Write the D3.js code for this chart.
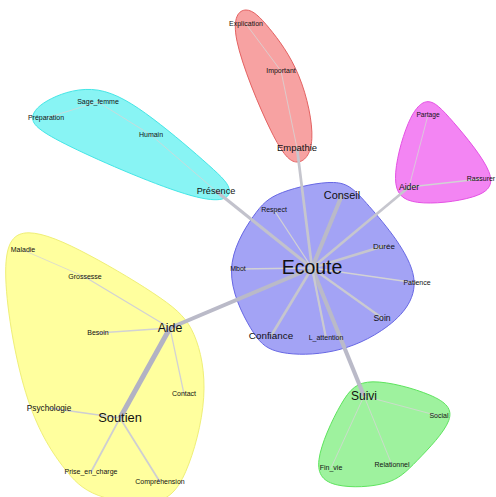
<!DOCTYPE html>
<html><head><meta charset="utf-8">
<script src="https://cdn.jsdelivr.net/npm/d3@7"></script>
<style>html,body{margin:0;padding:0;background:#fff;} svg{display:block;}</style>
</head><body>
<svg id="chart" width="496" height="497"></svg>
<script>
// ---- data ----
const words = ["Ecoute","Conseil","Respect","Durée","Mbot","Patience","Soin","Confiance","L_attention",
  "Empathie","Important","Explication",
  "Présence","Humain","Sage_femme","Préparation",
  "Aider","Partage","Rassurer",
  "Aide","Grossesse","Maladie","Besoin","Contact","Soutien","Psychologie","Prise_en_charge","Compréhension",
  "Suivi","Social","Relationnel","Fin_vie"];
// layout coordinates of the graph (similarity-graph layout units)
const layoutX = [312,342,274,384,238,417,382,271,326, 297,281,246, 216,151,98,46, 409,428,481, 170,85,23,98,184,120,49,91,160, 364,439,392,331];
const layoutY = [268,195,210,246,269,283,318,336,338, 148,71,24, 191,135,102,118, 187,115,179, 328,277,250,333,394,418,408,472,482, 396,416,465,468];
const community = [0,0,0,0,0,0,0,0,0, 1,1,1, 2,2,2,2, 3,3,3, 4,4,4,4,4,4,4,4,4, 5,5,5,5];
const freq = [73,25,3,9,3,3,12,19,3, 17,3,3, 15,3,3,3, 12,1,3, 33,3,3,3,3,36,10,3,3, 31,3,3,3];
const edgeFrom   = ["Ecoute","Ecoute","Ecoute","Ecoute","Ecoute","Ecoute","Ecoute","Ecoute","Ecoute","Ecoute","Ecoute","Ecoute","Ecoute",
  "Aide","Soutien","Soutien","Soutien","Aide","Aide","Aide","Grossesse",
  "Empathie","Important","Présence","Humain","Sage_femme","Aider","Aider","Suivi","Suivi","Suivi"];
const edgeTo     = ["Conseil","Aide","Suivi","Présence","Confiance","Empathie","Aider","Durée","Soin","L_attention","Respect","Mbot","Patience",
  "Soutien","Psychologie","Prise_en_charge","Compréhension","Besoin","Contact","Grossesse","Maladie",
  "Important","Explication","Humain","Sage_femme","Préparation","Rassurer","Partage","Social","Relationnel","Fin_vie"];
const edgeWeight = [8,8,8,6,5,5,5,5,4,4,2,2,2, 10,3,3,3,2,2,2,1, 1,1,1,1,1,2,1,1,1,1];

// ---- styles ----
const hullFill   = ["#a3a3f5","#f7a2a2","#88f4f4","#f385f3","#ffff9e","#9ef29e"];
const hullStroke = ["#6767e4","#e46262","#44e6e6","#e451e4","#efef78","#5ee45e"];
const hullPad    = [18,21,20,20,26,21];

const W = 496, H = 497;
const svg = d3.select("#chart");
const x = d3.scaleLinear().domain([0, 496]).range([0, W]);
const y = d3.scaleLinear().domain([0, 497]).range([0, H]);
const fontSize = d3.scaleLinear().domain([3, 73]).range([7, 19.5]);
const edgeWidth = d3.scaleLinear().domain([1, 10]).range([0.8, 5]);
const edgeColor = d3.scaleLinear().domain([1, 10]).range(["#d6d6d6", "#b2b2c4"]);

const nodes = words.map((w, i) => ({ name: w, x: x(layoutX[i]), y: y(layoutY[i]), c: community[i], f: freq[i] }));
const byName = new Map(nodes.map(n => [n.name, n]));
const links = edgeFrom.map((s, i) => ({ s: byName.get(s), t: byName.get(edgeTo[i]), w: edgeWeight[i] }));

// ---- hulls (diamond-expanded convex hull, spline smoothed) ----
const gH = svg.append("g");
const line = d3.line().curve(d3.curveBasisClosed);
d3.range(hullFill.length).forEach(c => {
  const pts = [];
  const R = hullPad[c];
  nodes.filter(n => n.c === c).forEach(n => {
    pts.push([n.x - R, n.y], [n.x + R, n.y], [n.x, n.y - R], [n.x, n.y + R]);
  });
  const hull = d3.polygonHull(pts);
  gH.append("path").attr("d", line(hull))
    .attr("fill", hullFill[c]).attr("stroke", hullStroke[c]).attr("stroke-width", 1);
});

// ---- edges ----
svg.append("g").selectAll("line").data(links).join("line")
  .attr("x1", d => d.s.x).attr("y1", d => d.s.y)
  .attr("x2", d => d.t.x).attr("y2", d => d.t.y)
  .attr("stroke", d => edgeColor(d.w))
  .attr("stroke-width", d => edgeWidth(d.w));

// ---- labels ----
svg.append("g").selectAll("text").data(nodes).join("text")
  .attr("x", d => d.x).attr("y", d => d.y)
  .attr("dy", "0.33em")
  .attr("text-anchor", "middle")
  .attr("font-family", "'Liberation Sans', Arial, sans-serif")
  .attr("font-size", d => fontSize(d.f))
  .attr("fill", "#111")
  .text(d => d.name);
</script>
</body></html>
